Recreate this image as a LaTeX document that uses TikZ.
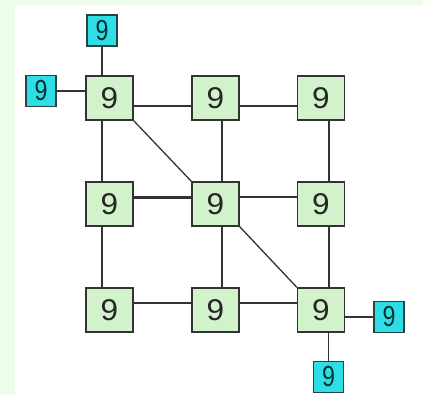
\documentclass[tikz,border=0pt]{standalone}
\usepackage{fontspec}
\setmainfont{Liberation Sans}
\definecolor{pagegreen}{HTML}{EEFDEA}
\definecolor{cellgreen}{HTML}{D2F2CC}
\definecolor{portcyan}{HTML}{2EDDE6}
\definecolor{edgegray}{HTML}{333333}
\begin{document}
\begin{tikzpicture}[x=1pt,y=-1pt,
  cell/.style={draw=edgegray,line width=1.3pt,fill=cellgreen,minimum width=47pt,
    minimum height=44pt,inner sep=0pt,font=\fontsize{30}{30}\selectfont,text=black!85},
  port/.style={draw=edgegray!80!teal,line width=1.3pt,fill=portcyan,minimum width=30pt,
    minimum height=31pt,inner sep=0pt,font=\fontsize{29}{29}\selectfont,text=teal!40!black},
  link/.style={draw=edgegray,line width=1.6pt},
  thicklink/.style={draw=edgegray,line width=2.5pt}]
\useasboundingbox (0,0) rectangle (423,395);
% page background with the white drawing area
\fill[pagegreen] (0,0) rectangle (423,395);
\fill[white] (15,5) rectangle (423,395);

% grid of cells
\node[cell] (b11) at (109.5,98) {\scalebox{1.05}[1]{9}};
\node[cell] (b12) at (215.5,98) {\scalebox{1.05}[1]{9}};
\node[cell] (b13) at (321,98) {\scalebox{1.05}[1]{9}};
\node[cell] (b21) at (109.5,204) {\scalebox{1.05}[1]{9}};
\node[cell] (b22) at (215.5,204) {\scalebox{1.05}[1]{9}};
\node[cell] (b23) at (321,204) {\scalebox{1.05}[1]{9}};
\node[cell] (b31) at (109.5,310) {\scalebox{1.05}[1]{9}};
\node[cell] (b32) at (215.5,310) {\scalebox{1.05}[1]{9}};
\node[cell] (b33) at (321,310) {\scalebox{1.05}[1]{9}};

% ports
\node[port] (ptop)   at (102,30.5) {\scalebox{0.8}[1]{9}};
\node[port] (pleft)  at (41,91)    {\scalebox{0.8}[1]{9}};
\node[port] (pright) at (389,317)  {\scalebox{0.8}[1]{9}};
\node[port] (pbot)   at (328.5,377) {\scalebox{0.8}[1]{9}};

% port connections
\draw[link] (ptop.south) -- (ptop.south |- b11.north);
\draw[link] (pleft.east) -- (pleft.east -| b11.west);
\draw[link] (pright.west) -- (pright.west -| b33.east);
\draw[link] (pbot.north) -- (pbot.north |- b33.south);

% horizontal links
\draw[link] ([yshift=-8pt]b11.east) -- ([yshift=-8pt]b12.west);
\draw[link] ([yshift=-8pt]b12.east) -- ([yshift=-8pt]b13.west);
\draw[thicklink] ([yshift=6.7pt]b21.east) -- ([yshift=6.7pt]b22.west);
\draw[link] ([yshift=6.7pt]b22.east) -- ([yshift=6.7pt]b23.west);
\draw[link] ([yshift=6.7pt]b31.east) -- ([yshift=6.7pt]b32.west);
\draw[link] ([yshift=6.7pt]b32.east) -- ([yshift=6.7pt]b33.west);

% vertical links
\draw[link] ([xshift=-7.5pt]b11.south) -- ([xshift=-7.5pt]b21.north);
\draw[link] ([xshift=-7.5pt]b21.south) -- ([xshift=-7.5pt]b31.north);
\draw[link] ([xshift=6.5pt]b12.south) -- ([xshift=6.5pt]b22.north);
\draw[link] ([xshift=6.5pt]b22.south) -- ([xshift=6.5pt]b32.north);
\draw[link] ([xshift=8pt]b13.south) -- ([xshift=8pt]b23.north);
\draw[link] ([xshift=8pt]b23.south) -- ([xshift=8pt]b33.north);

% diagonal links
\draw[link,line width=1.3pt] (b11.south east) -- (b22.north west);
\draw[link,line width=1.3pt] (b22.south east) -- (b33.north west);
\end{tikzpicture}
\end{document}
